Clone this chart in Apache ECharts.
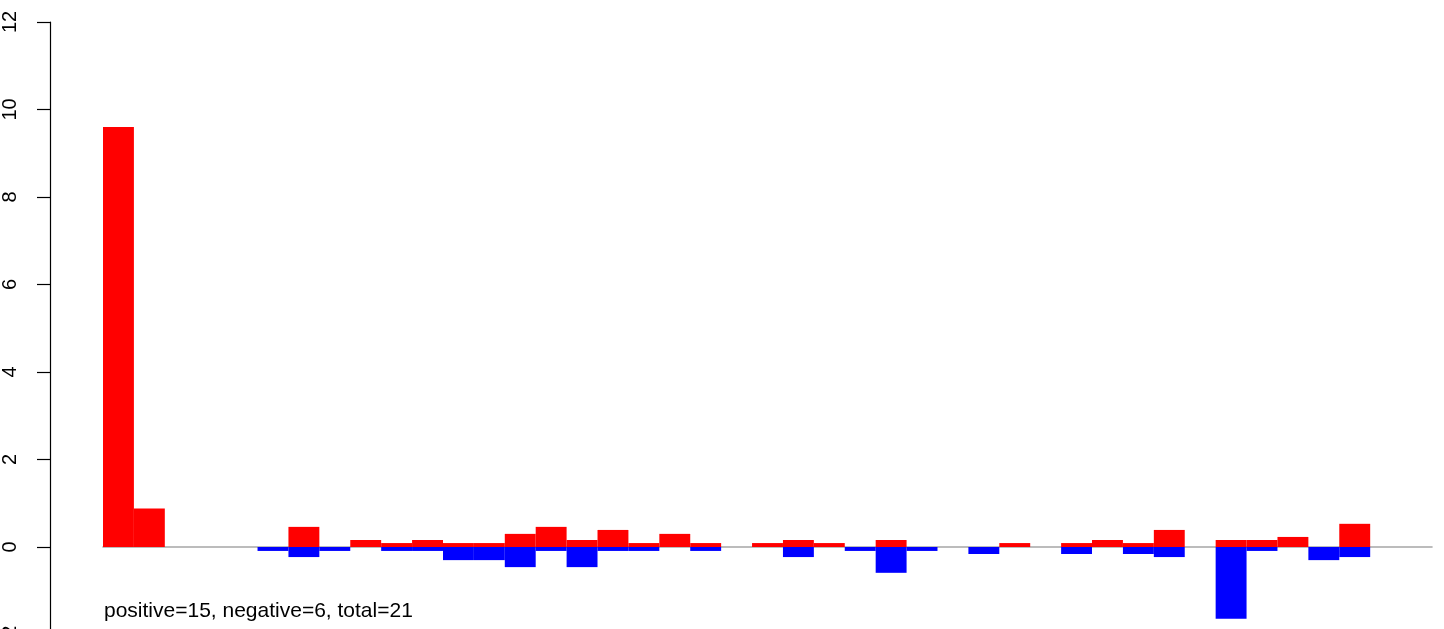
<!DOCTYPE html>
<html>
<head>
<meta charset="utf-8">
<script src="https://cdn.jsdelivr.net/npm/echarts@6/dist/echarts.min.js"></script>
<style>
html,body{margin:0;padding:0;background:#fff;overflow:hidden;}
#chart{width:1444px;height:650px;}
</style>
</head>
<body>
<div id="chart"></div>
<script>
var categories = [];
for (var k = 1; k <= 43; k++) categories.push(String(k));

var positiveValues = [
  9.6, 0.88, 0, 0, 0, 0, 0.46, 0, 0.16, 0.09,
  0.16, 0.09, 0.09, 0.3, 0.46, 0.16, 0.39, 0.09, 0.3, 0.09,
  0, 0.09, 0.16, 0.09, 0, 0.16, 0, 0, 0, 0.09,
  0, 0.09, 0.16, 0.09, 0.39, 0, 0.16, 0.16, 0.23, 0,
  0.53, 0, 0
];

var negativeValues = [
  0, 0, 0, 0, 0, -0.09, -0.23, -0.09, 0, -0.09,
  -0.09, -0.3, -0.3, -0.46, -0.09, -0.46, -0.09, -0.09, 0, -0.09,
  0, 0, -0.23, 0, -0.09, -0.59, -0.09, 0, -0.16, 0,
  0, -0.16, 0, -0.16, -0.23, 0, -1.64, -0.09, 0, -0.3,
  -0.23, 0, 0
];

var yTicks = { min: -2, max: 12, interval: 2 };
var noteText = 'positive=15, negative=6, total=21';

var chart = echarts.init(document.getElementById('chart'), null, { renderer: 'canvas' });
chart.setOption({
  animation: false,
  backgroundColor: '#ffffff',
  grid: { left: 103, top: 22, width: 1329, height: 612.5, containLabel: false },
  xAxis: {
    type: 'category',
    data: categories,
    boundaryGap: true,
    axisLine: { show: true, onZero: true, lineStyle: { color: '#a6a6a6', width: 1.6 } },
    axisTick: { show: false },
    axisLabel: { show: false },
    splitLine: { show: false }
  },
  yAxis: {
    type: 'value',
    min: yTicks.min,
    max: yTicks.max,
    interval: yTicks.interval,
    offset: 53,
    axisLine: { show: true, lineStyle: { color: '#000', width: 1.2 } },
    axisTick: { show: true, length: 13, lineStyle: { color: '#000', width: 1.2 } },
    axisLabel: {
      show: true,
      rotate: 90,
      margin: 30,
      color: '#000',
      fontSize: 20,
      fontFamily: 'Liberation Sans, Arial, sans-serif'
    },
    splitLine: { show: false }
  },
  graphic: [{
    type: 'text',
    left: 104,
    top: 601,
    style: {
      text: noteText,
      fill: '#000',
      font: '21px "Liberation Sans", Arial, sans-serif'
    }
  }],
  series: [
    {
      type: 'bar',
      name: 'positive',
      data: positiveValues,
      barGap: '-100%',
      barCategoryGap: 0,
      itemStyle: { color: '#ff0000' }
    },
    {
      type: 'bar',
      name: 'negative',
      data: negativeValues,
      barGap: '-100%',
      barCategoryGap: 0,
      itemStyle: { color: '#0000ff' }
    }
  ]
});
</script>
</body>
</html>
